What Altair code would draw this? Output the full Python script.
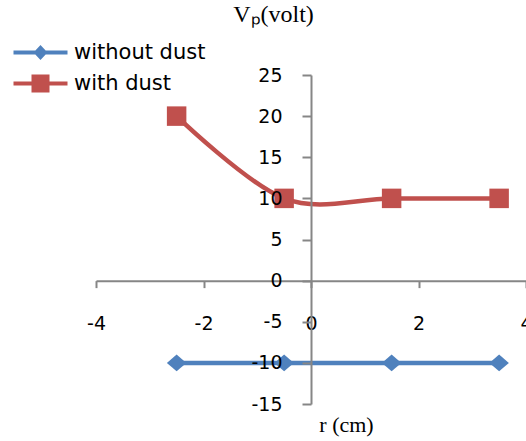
import altair as alt
import pandas as pd

# ---- data ----
r_without = [-2.5, -0.5, 1.5, 3.5]
v_without = [-10, -10, -10, -10]
r_with = [-2.5, -0.5, 1.5, 3.5]
v_with = [20, 10, 10, 10]
series_names = ["without dust", "with dust"]
series_colors = ["#4F81BD", "#C0504D"]
x_ticks = [-4, -2, 0, 2, 4]
y_ticks = [-15, -10, -5, 0, 5, 10, 15, 20, 25]
x_title = "r (cm)"
y_title = "V\u209a(volt)"

df = pd.DataFrame({
    "r": r_without + r_with,
    "v": v_without + v_with,
    "series": [series_names[0]] * len(r_without) + [series_names[1]] * len(r_with),
})

W, H = 430, 329
x_dom = [-4, 4]
y_dom = [-15, 25]
y0_from_bottom = H * (0 - y_dom[0]) / (y_dom[1] - y_dom[0])
x0_from_left = W * (0 - x_dom[0]) / (x_dom[1] - x_dom[0])

SANS = "DejaVu Sans"
SERIF = "Liberation Serif"
GRAY = "#868686"

DIAMOND = "M-1,0L0,-0.85L1,0L0,0.85Z"
LEG_DIAMOND = "M-5.4,-0.4H-1.03L0,-1.5L1.03,-0.4H5.4V0.4H1.03L0,1.5L-1.03,0.4H-5.4Z"
LEG_SQUARE = "M-5.4,-0.4H-1.8V-1.8H1.8V-0.4H5.4V0.4H1.8V1.8H-1.8V0.4H-5.4Z"

x_enc = alt.X(
    "r:Q",
    scale=alt.Scale(domain=x_dom, nice=False, zero=False),
    axis=alt.Axis(
        values=x_ticks, offset=-y0_from_bottom, tickSize=7, labelPadding=27,
        labelFlush=False, labelOverlap=False, grid=False, zindex=1,
        labelExpr="'' + datum.value",
        labelFont=SANS, labelFontSize=19, labelColor="black",
        title=x_title, titleFont=SERIF, titleFontSize=22, titleFontWeight="normal",
        titleColor="black", titleX=250, titleY=151, titleAlign="center",
        titleBaseline="alphabetic",
    ),
)
y_enc = alt.Y(
    "v:Q",
    scale=alt.Scale(domain=y_dom, nice=False, zero=False),
    axis=alt.Axis(
        values=y_ticks, offset=-x0_from_left, tickSize=9, labelPadding=20,
        labelFlush=False, labelOverlap=False, grid=False, zindex=1,
        labelExpr="'' + datum.value",
        labelFont=SANS, labelFontSize=19, labelColor="black",
        title=y_title, titleFont=SERIF, titleFontSize=24, titleFontWeight="normal",
        titleColor="black", titleAngle=0, titleX=-38, titleY=-54,
        titleAlign="center", titleBaseline="alphabetic",
    ),
)

color_scale = alt.Scale(domain=series_names, range=series_colors)


def make_legend():
    return alt.Legend(
        title=None, orient="none", legendX=-66, legendY=-33, symbolSize=100,
        labelFont=SANS, labelFontSize=21, labelColor="black", labelOffset=23,
        rowPadding=9, padding=0, symbolOpacity=1, symbolStrokeWidth=0,
    )


base = alt.Chart(df)
layers = []
marker_shapes = [DIAMOND, "square"]
for name, col in zip(series_names, series_colors):
    sub = base.transform_filter(alt.datum.series == name)
    layers.append(sub.mark_line(interpolate="cardinal", strokeWidth=4.5, color=col).encode(x=x_enc, y=y_enc))
for name, col, shp in zip(series_names, series_colors, marker_shapes):
    sub = base.transform_filter(alt.datum.series == name)
    layers.append(sub.mark_point(filled=True, opacity=1, size=380, shape=shp, color=col).encode(x=x_enc, y=y_enc))

legend_layer = base.transform_filter("false").mark_point(filled=True, size=100, opacity=1).encode(
    x=x_enc, y=y_enc,
    color=alt.Color("series:N", scale=color_scale, legend=make_legend()),
    shape=alt.Shape("series:N", scale=alt.Scale(domain=series_names, range=[LEG_DIAMOND, LEG_SQUARE]),
                    legend=make_legend()),
)
layers.append(legend_layer)

chart = (
    alt.layer(*layers)
    .properties(width=W, height=H, autosize=alt.AutoSizeParams(type="none"),
                background="white",
                padding={"left": 96, "top": 75, "right": 0, "bottom": 441 - 75 - H})
    .configure_view(strokeWidth=0, stroke="transparent")
    .configure_axis(domainColor=GRAY, domainWidth=2, tickColor=GRAY, tickWidth=2)
)

chart.save("out.html", embed_options={"renderer": "svg", "actions": False})
